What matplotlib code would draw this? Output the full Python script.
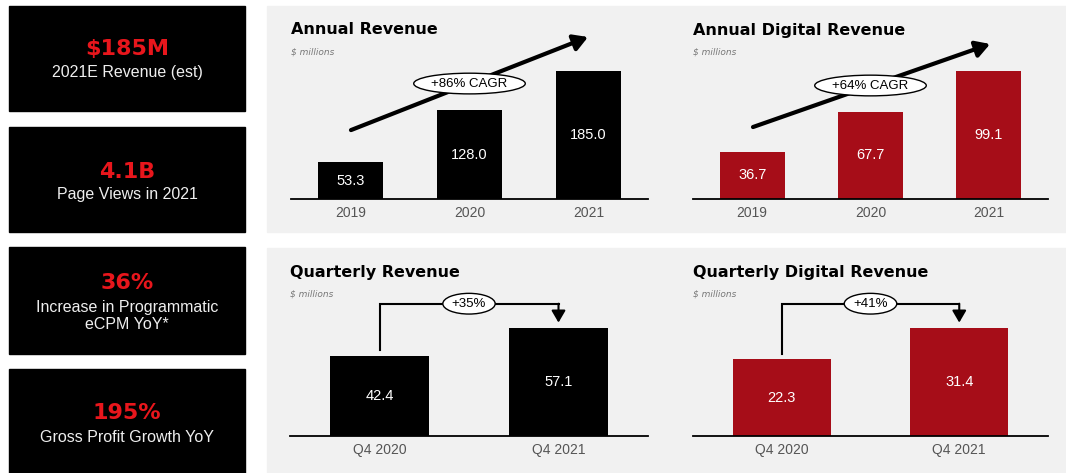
import matplotlib.pyplot as plt
from matplotlib.patches import Rectangle

W, H = 1066, 473

# ---- data
years = ['2019', '2020', '2021']
annual_rev = [53.3, 128.0, 185.0]
annual_digital = [36.7, 67.7, 99.1]
quarters = ['Q4 2020', 'Q4 2021']
quarterly_rev = [42.4, 57.1]
quarterly_digital = [22.3, 31.4]
cagr_labels = ['+86% CAGR', '+64% CAGR']
growth_labels = ['+35%', '+41%']
kpi_values = ['$185M', '4.1B', '36%', '195%']
kpi_labels = ['2021E Revenue (est)', 'Page Views in 2021',
              'Increase in Programmatic\neCPM YoY*', 'Gross Profit Growth YoY']

BLACK = '#000000'
RED = '#a60d18'
KPI_RED = '#e8161c'
PANEL = '#f1f1f1'

fig = plt.figure(figsize=(W / 100, H / 100), dpi=100)
fig.patch.set_facecolor('white')


def fx(x):
    return x / W


def fy(y):
    return 1 - y / H


def rect(x0, y0, x1, y1, color):
    fig.patches.append(Rectangle((fx(x0), fy(y1)), fx(x1 - x0), (y1 - y0) / H,
                                 transform=fig.transFigure, color=color, zorder=-5))


#---- gray panels
rect(267, 6, W, 232, PANEL)
rect(267, 248, W, H, PANEL)

#---- KPI boxes on the left
boxes = [(6, 111), (127, 232), (247, 354), (369, 473)]
big_y = [49, 172, 283, 413]
small_y = [73, 194, 316, 437]
for (y0, y1), val, lab, by, sy in zip(boxes, kpi_values, kpi_labels, big_y, small_y):
    rect(9, y0, 245, y1, BLACK)
    fig.text(fx(127), fy(by), val, color=KPI_RED, fontsize=16, fontweight='heavy',
             ha='center', va='center', family='DejaVu Sans')
    fig.text(fx(127), fy(sy), lab, color='#eeeeee', fontsize=11.5, ha='center', va='center',
             family='Liberation Sans', linespacing=1.15)


def make_axes(x0, x1, ytop, ybase):
    ax = fig.add_axes([fx(x0), fy(ybase), fx(x1 - x0), (ybase - ytop) / H])
    ax.set_facecolor('none')
    for s in ['top', 'right', 'left']:
        ax.spines[s].set_visible(False)
    ax.spines['bottom'].set_linewidth(1.3)
    ax.set_yticks([])
    ax.tick_params(axis='x', length=0, pad=5, labelsize=10, labelcolor='#555555')
    return ax


def bar_chart(ax, cats, vals, color, ylim_scale):
    xs = list(range(len(cats)))
    bars = ax.bar(xs, vals, width=0.55, color=color)
    ax.bar_label(bars, labels=[f'{v:.1f}' for v in vals], label_type='center',
                 color='white', fontsize=10.5, family='Liberation Sans')
    ax.set_xticks(xs)
    ax.set_xticklabels(cats, family='Liberation Sans')
    ax.set_xlim(-0.5, len(cats) - 0.5)
    ax.set_ylim(0, max(vals) * ylim_scale)


def titles(x, y, title):
    fig.text(fx(x), fy(y), title, fontsize=11.5, fontweight='heavy', va='center', ha='left')
    fig.text(fx(x), fy(y + 22), '$ millions', fontsize=6.5, style='italic', color='#777777',
             va='center', ha='left')


ell = dict(boxstyle='ellipse,pad=0.1', fc='white', ec='black', lw=1)

#---- annual charts
for x0, x1, vals, color, title, lab, a0, a1 in [
        (291, 648, annual_rev, BLACK, 'Annual Revenue', cagr_labels[0], (0.168, 0.385), (0.832, 0.905)),
        (693, 1048, annual_digital, RED, 'Annual Digital Revenue', cagr_labels[1], (0.169, 0.402), (0.837, 0.866))]:
    ax = make_axes(x0, x1, 20, 199)
    bar_chart(ax, years, vals, color, 179 / 128)
    ax.annotate('', xy=a1, xytext=a0, xycoords='axes fraction', textcoords='axes fraction',
                arrowprops=dict(arrowstyle='-|>,head_length=0.6,head_width=0.35', lw=3,
                                color='black', mutation_scale=14, shrinkA=0, shrinkB=0))
    ax.text(0.5, (a0[1] + a1[1]) / 2, lab, transform=ax.transAxes, ha='center', va='center',
            fontsize=9.5, family='Liberation Sans', bbox=ell, zorder=5)
    titles(x0, 30, title)

#---- quarterly charts
for x0, x1, vals, color, title, lab in [
        (290, 648, quarterly_rev, BLACK, 'Quarterly Revenue', growth_labels[0]),
        (693, 1048, quarterly_digital, RED, 'Quarterly Digital Revenue', growth_labels[1])]:
    ax = make_axes(x0, x1, 262, 436)
    bar_chart(ax, quarters, vals, color, 174 / 108)
    top = max(vals) * 1.225
    ax.plot([0, 0, 1], [vals[0] + max(vals) * 0.05, top, top], color='black', lw=1.5,
            solid_joinstyle='miter')
    ax.annotate('', xy=(1, vals[1] + max(vals) * 0.05), xytext=(1, top),
                arrowprops=dict(arrowstyle='-|>,head_length=0.6,head_width=0.35', lw=1.5,
                                color='black', mutation_scale=12, shrinkA=0, shrinkB=0))
    ax.text(0.5, top, lab, ha='center', va='center', fontsize=9.5, family='Liberation Sans',
            bbox=ell, zorder=5)
    titles(x0, 272, title)

plt.savefig('out.png', dpi=100)
